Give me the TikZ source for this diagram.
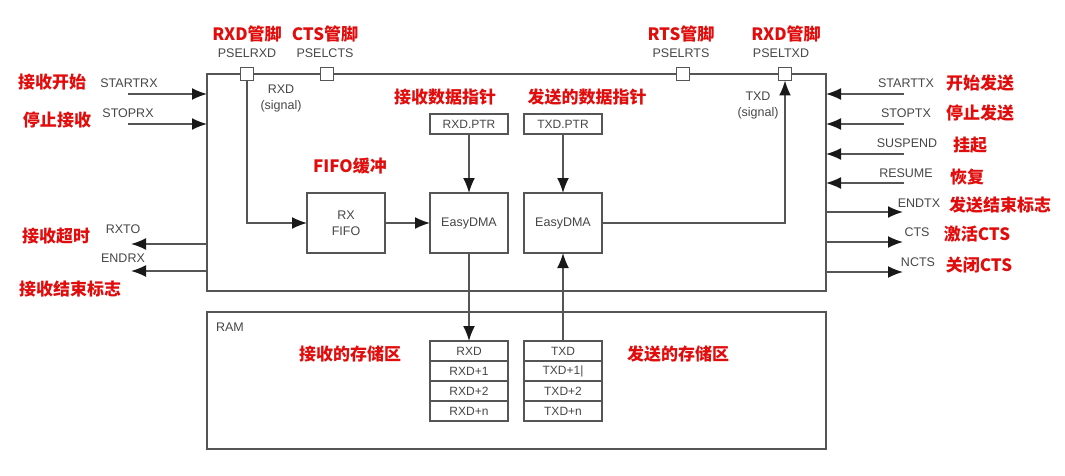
\documentclass[tikz,border=0pt]{standalone}
\usepackage{fontspec}
\setmainfont{Liberation Sans}
\newfontfamily\cjk{Noto Sans CJK SC}
\usetikzlibrary{arrows.meta, positioning}
\definecolor{linegray}{RGB}{85,85,85}
\definecolor{txtgray}{RGB}{70,70,70}
\definecolor{notered}{RGB}{225,12,12}

\begin{document}
\begin{tikzpicture}[x=1pt, y=-1pt,
    box/.style={draw=linegray, line width=1.6pt, inner sep=0pt, outer sep=0pt},
    blk/.style={box, fill=white, minimum width=78pt, minimum height=60pt, align=center,
                font=\fontsize{12.5}{16}\selectfont, text=txtgray},
    cell/.style={box, minimum width=78pt, minimum height=20pt,
                 font=\fontsize{12}{14}\selectfont, text=txtgray},
    pinbox/.style={box, fill=white, minimum size=13pt},
    lbl/.style={font=\fontsize{12.5}{16}\selectfont, text=txtgray, inner sep=1pt, align=center},
    note/.style={font=\cjk\bfseries\fontsize{17}{19}\selectfont, text=notered, inner sep=0pt},
    arr/.style={draw=linegray, line width=1.6pt, -{Latex[length=15pt,width=12pt,color=black!90]}},
    node distance=1cm]
    \useasboundingbox (0,0) rectangle (1065,476);

    % peripheral and RAM
    \node[box, anchor=north west, minimum width=619pt, minimum height=217pt] (uart) at (207,74) {};
    \node[box, anchor=north west, minimum width=619pt, minimum height=137pt] (ram) at (207,312) {};
    \node[lbl] (ramlbl) at (230,327) {RAM};

    % pins
    \node[pinbox] (prxd) at (247,74) {};
    \node[pinbox] (pcts) at (327,74) {};
    \node[pinbox] (prts) at (683,74) {};
    \node[pinbox] (ptxd) at (785,74) {};
    \node[lbl] (prxd_l) [above=9pt of prxd] {PSELRXD};
    \node[lbl] (pcts_l) [above=9pt of pcts, xshift=-2pt] {PSELCTS};
    \node[lbl] (prts_l) [above=9pt of prts, xshift=-2pt] {PSELRTS};
    \node[lbl] (ptxd_l) [above=9pt of ptxd, xshift=-4pt] {PSELTXD};
    \node[note] [above=5pt of prxd_l] {RXD管脚};
    \node[note] [above=5pt of pcts_l] {CTS管脚};
    \node[note] [above=5pt of prts_l] {RTS管脚};
    \node[note] [above=5pt of ptxd_l, xshift=5pt] {RXD管脚};

    \node[lbl] (rxsig) at (281,98) {RXD\\(signal)};
    \node[lbl] (txsig) at (758,105) {TXD\\(signal)};

    % data path
    \node[blk] (rxfifo) at (346,223) {RX\\FIFO};
    \node[blk] (rxdma) at (469,223) {EasyDMA};
    \node[blk] (txdma) at (563,223) {EasyDMA};
    \node[cell] (rxptr) at (469,124) {RXD.PTR};
    \node[cell] (txptr) at (563,124) {TXD.PTR};
    \node[note] at (350,166) {FIFO缓冲};
    \node[note] at (445,97) {接收数据指针};
    \node[note] at (587,97) {发送的数据指针};

    \node[cell] (rxd0) at (469,351) {RXD};
    \node[cell] (rxd1) [below=0pt of rxd0] {RXD+1};
    \node[cell] (rxd2) [below=0pt of rxd1] {RXD+2};
    \node[cell] (rxdn) [below=0pt of rxd2] {RXD+n};
    \node[cell] (txd0) at (563,351) {TXD};
    \node[cell] (txd1) [below=0pt of txd0] {TXD+1|};
    \node[cell] (txd2) [below=0pt of txd1] {TXD+2};
    \node[cell] (txdn) [below=0pt of txd2] {TXD+n};
    \node[note] at (350,354) {接收的存储区};
    \node[note] at (678,354) {发送的存储区};

    \draw[arr] (prxd.south) |- (rxfifo.west);
    \draw[arr] (rxfifo) -- (rxdma);
    \draw[arr] (rxptr) -- (rxdma);
    \draw[arr] (txptr) -- (txdma);
    \draw[arr] (txdma.east) -| (ptxd.south);
    \draw[arr] (rxdma) -- (rxd0);
    \draw[arr] (txd0) -- (txdma);

    % left tasks and events
    \coordinate (startrx) at (128,94);
    \coordinate (stoprx) at (128,124);
    \coordinate (rxto) at (131,244);
    \coordinate (endrx) at (131,271);
    \draw[arr] (startrx) -- (startrx -| uart.west);
    \draw[arr] (stoprx) -- (stoprx -| uart.west);
    \draw[arr] (rxto -| uart.west) -- (rxto);
    \draw[arr] (endrx -| uart.west) -- (endrx);
    \node[lbl] [above=5pt of startrx, xshift=1pt] {STARTRX};
    \node[lbl] [above=5pt of stoprx] {STOPRX};
    \node[lbl] [above=9pt of rxto, xshift=-8pt] {RXTO};
    \node[lbl] [above=7pt of endrx, xshift=-8pt] {ENDRX};
    \node[note] at (52,82) {接收开始};
    \node[note] at (57,120) {停止接收};
    \node[note] at (56,236) {接收超时};
    \node[note] at (70,289) {接收结束标志};

    % right tasks and events
    \coordinate (starttx) at (904,94);
    \coordinate (stoptx) at (904,124);
    \coordinate (suspend) at (904,154);
    \coordinate (resume) at (904,183);
    \coordinate (endtx) at (903,212);
    \coordinate (cts) at (903,242);
    \coordinate (ncts) at (903,272);
    \draw[arr] (starttx) -- (starttx -| uart.east);
    \draw[arr] (stoptx) -- (stoptx -| uart.east);
    \draw[arr] (suspend) -- (suspend -| uart.east);
    \draw[arr] (resume) -- (resume -| uart.east);
    \draw[arr] (endtx -| uart.east) -- (endtx);
    \draw[arr] (cts -| uart.east) -- (cts);
    \draw[arr] (ncts -| uart.east) -- (ncts);
    \node[lbl] [above=5pt of starttx, xshift=2pt] {STARTTX};
    \node[lbl] [above=5pt of stoptx, xshift=2pt] {STOPTX};
    \node[lbl] [above=5pt of suspend, xshift=3pt] {SUSPEND};
    \node[lbl] [above=4pt of resume, xshift=2pt] {RESUME};
    \node[lbl] [above=3pt of endtx, xshift=16pt] {ENDTX};
    \node[lbl] [above=4pt of cts, xshift=14pt] {CTS};
    \node[lbl] [above=4pt of ncts, xshift=15pt] {NCTS};
    \node[note] at (980,83) {开始发送};
    \node[note] at (980,113) {停止发送};
    \node[note] at (970,145) {挂起};
    \node[note] at (967,177) {恢复};
    \node[note] at (1000,205) {发送结束标志};
    \node[note] at (977,234) {激活CTS};
    \node[note] at (979,265) {关闭CTS};
\end{tikzpicture}
\end{document}
